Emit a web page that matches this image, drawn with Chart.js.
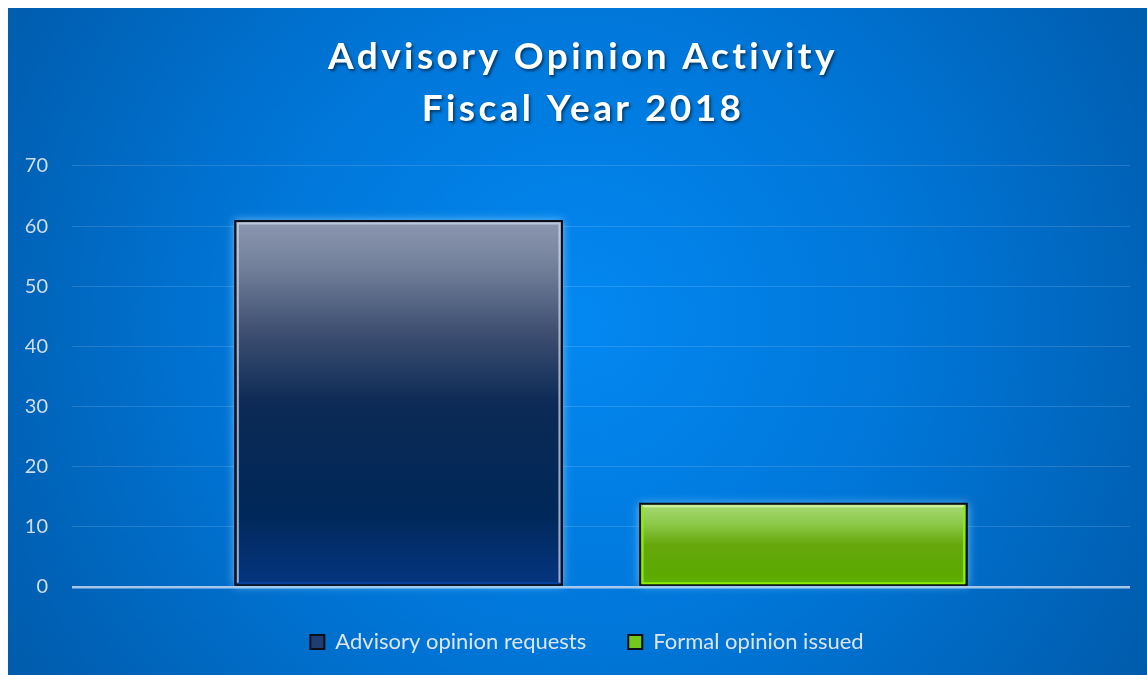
<!DOCTYPE html>
<html>
<head>
<meta charset="utf-8">
<script src="https://cdn.jsdelivr.net/npm/chart.js@4"></script>
<style>
  html, body { margin: 0; padding: 0; background: #ffffff; }
  #wrap { position: absolute; left: 8px; top: 8px; width: 1139px; height: 667px; }
  canvas { display: block; }
</style>
</head>
<body>
<div id="wrap"><canvas id="c" width="1139" height="667"></canvas></div>
<script>
// ---- data ----
const categories = ['Fiscal Year 2018'];
const seriesNames = ['Advisory opinion requests', 'Formal opinion issued'];
const advisoryRequests = [61];
const formalIssued = [14];
const titleLines = ['Advisory Opinion Activity', 'Fiscal Year 2018'];
const yTicks = [0, 10, 20, 30, 40, 50, 60, 70];

// ---- styles ----
const FONT = 'Lato, "Open Sans", "DejaVu Sans", sans-serif';
const navyStops = [[0, '#8c98b0'], [0.12, '#75829c'], [0.3, '#3f5072'], [0.5, '#0c2a55'], [0.8, '#002859'], [1, '#063682']];
const greenStops = [[0, '#a9da78'], [0.25, '#8cc94a'], [0.5, '#66a70c'], [0.85, '#5ca900'], [1, '#64b800']];

function barGradient(ctx, stops, fallback) {
  if (ctx.type !== 'data') return fallback;
  const chart = ctx.chart;
  const y = chart.scales.y;
  if (!y || !chart.chartArea) return fallback;
  const top = y.getPixelForValue(ctx.raw);
  const bot = y.getPixelForValue(0);
  const g = chart.ctx.createLinearGradient(0, top, 0, bot);
  stops.forEach(s => g.addColorStop(s[0], s[1]));
  return g;
}

function wrapDraw(chart, box, setup) {
  if (!box || box._wrapped) return;
  const orig = box.draw;
  box.draw = function () {
    const c = chart.ctx;
    c.save();
    setup(c);
    orig.apply(this, arguments);
    c.restore();
  };
  box._wrapped = true;
}

const bgPlugin = {
  id: 'bg',
  beforeDraw(chart) {
    const { ctx, width, height } = chart;
    ctx.save();
    const g = ctx.createRadialGradient(width * 0.5, height * 0.47, 20, width * 0.5, height * 0.47, width * 0.62);
    g.addColorStop(0, '#0387f0');
    g.addColorStop(0.45, '#0076d8');
    g.addColorStop(1, '#0058a6');
    ctx.fillStyle = g;
    ctx.fillRect(0, 0, width, height);
    ctx.restore();
    // title: letter spacing & shadow
    wrapDraw(chart, chart.titleBlock, c => {
      c.translate(14, 0);
      c.letterSpacing = '3.4px';
      c.shadowColor = 'rgba(0,0,0,0.55)';
      c.shadowBlur = 3;
      c.shadowOffsetX = 1.5;
      c.shadowOffsetY = 2;
    });
    // legend: centred like the reference
    wrapDraw(chart, chart.legend, c => { c.translate(18, 0); });
  },
  beforeDatasetsDraw(chart) {
    const ctx = chart.ctx;
    ctx.save();
    chart.data.datasets.forEach((ds, i) => {
      const meta = chart.getDatasetMeta(i);
      meta.data.forEach(el => {
        const { x, y, base, width } = el.getProps(['x', 'y', 'base', 'width'], true);
        ctx.shadowColor = 'rgba(140,210,255,0.75)';
        ctx.shadowBlur = 9;
        ctx.fillStyle = '#000';
        ctx.fillRect(x - width / 2, y, width, base - y);
      });
    });
    ctx.restore();
  },
  afterDatasetsDraw(chart) {
    const ctx = chart.ctx;
    ctx.save();
    chart.data.datasets.forEach((ds, i) => {
      const meta = chart.getDatasetMeta(i);
      meta.data.forEach(el => {
        const { x, y, base, width } = el.getProps(['x', 'y', 'base', 'width'], true);
        const l = x - width / 2 + 3.5, r = x + width / 2 - 3.5, t = y + 3.5, b = base - 2.5;
        ctx.lineWidth = 2;
        if (i === 0) {
          ctx.strokeStyle = 'rgba(205,215,235,0.75)';
          ctx.beginPath(); ctx.moveTo(l, b); ctx.lineTo(l, t); ctx.lineTo(r, t); ctx.lineTo(r, b); ctx.stroke();
          ctx.strokeStyle = 'rgba(10,70,170,0.9)';
          ctx.beginPath(); ctx.moveTo(l, b); ctx.lineTo(r, b); ctx.stroke();
        } else {
          ctx.strokeStyle = 'rgba(215,245,170,0.9)';
          ctx.beginPath(); ctx.moveTo(l, t); ctx.lineTo(r, t); ctx.stroke();
          ctx.strokeStyle = '#8cf000';
          ctx.beginPath(); ctx.moveTo(l, t); ctx.lineTo(l, b); ctx.lineTo(r, b); ctx.lineTo(r, t); ctx.stroke();
        }
      });
    });
    ctx.restore();
  }
};

new Chart(document.getElementById('c'), {
  type: 'bar',
  data: {
    labels: categories,
    datasets: [
      {
        label: seriesNames[0],
        data: advisoryRequests,
        backgroundColor: c => barGradient(c, navyStops, '#1d3a6c'),
        borderColor: '#0a0f1a',
        borderWidth: 2,
        borderSkipped: false
      },
      {
        label: seriesNames[1],
        data: formalIssued,
        backgroundColor: c => barGradient(c, greenStops, '#6cc21a'),
        borderColor: '#0a0f1a',
        borderWidth: 2,
        borderSkipped: false
      }
    ]
  },
  options: {
    responsive: false,
    animation: false,
    devicePixelRatio: 1,
    categoryPercentage: 0.765,
    barPercentage: 0.812,
    layout: { padding: { left: 0, right: 17, top: 0, bottom: 12 } },
    plugins: {
      title: {
        display: true,
        text: titleLines,
        color: '#ffffff',
        font: { family: FONT, size: 37, weight: 'bold', lineHeight: 1.405 },
        padding: { top: 23, bottom: 31 }
      },
      legend: {
        position: 'bottom',
        labels: {
          color: '#dde5f0',
          font: { family: FONT, size: 22 },
          boxWidth: 14,
          boxHeight: 14,
          padding: 42,
          generateLabels(chart) {
            const fills = ['#1f3d70', '#72c81c'];
            return chart.data.datasets.map((ds, i) => ({
              text: ds.label,
              fillStyle: fills[i],
              strokeStyle: '#0a0f1a',
              lineWidth: 2,
              fontColor: '#dde5f0',
              hidden: false,
              datasetIndex: i
            }));
          }
        }
      },
      tooltip: { enabled: false }
    },
    scales: {
      x: {
        display: true,
        ticks: { display: false },
        grid: { display: false },
        border: { display: false },
        afterFit(scale) { scale.height = 2; }
      },
      y: {
        min: 0,
        max: 70,
        afterBuildTicks(scale) { scale.ticks = yTicks.map(v => ({ value: v })); },
        ticks: {
          color: '#d3dce8',
          font: { family: FONT, size: 20 },
          padding: 24
        },
        grid: {
          drawTicks: false,
          color: c => c.tick && c.tick.value === 0 ? 'rgba(185,210,238,0.9)' : 'rgba(255,255,255,0.14)',
          lineWidth: c => c.tick && c.tick.value === 0 ? 2.5 : 1
        },
        border: { display: false },
        afterFit(scale) { scale.width = 64; }
      }
    }
  },
  plugins: [bgPlugin]
});
</script>
</body>
</html>
